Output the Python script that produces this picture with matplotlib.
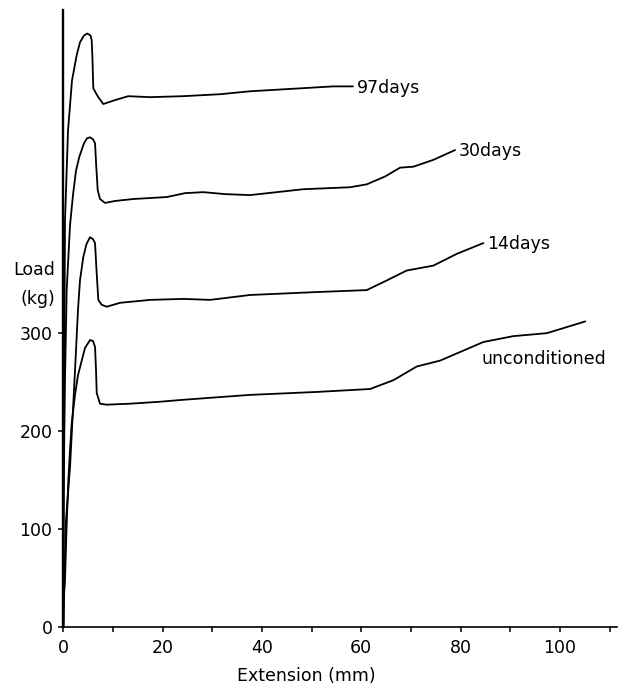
import matplotlib
matplotlib.use("Agg")
import matplotlib.pyplot as plt
from matplotlib.ticker import MultipleLocator

plt.rcParams['font.family'] = ['DejaVu Sans']

# Extension (mm) and Load (kg)
ext_97 = [0, 0.14, 0.34, 0.95, 1.75, 2.70, 3.36, 4.17, 4.83, 5.48, 5.72, 5.88, 6.04,
          6.59, 7.05, 8.06, 10.41, 13.09, 17.46, 24.11, 31.57, 37.60, 47.67, 54.32, 58.35]
load_97 = [0, 211, 415, 507, 558, 584, 597, 604, 606, 604, 599, 579, 550,
           545, 541, 534, 538, 542, 541, 542, 544, 547, 550, 552, 552]

ext_30 = [0, 0.04, 0.34, 0.68, 1.35, 1.95, 2.56, 3.22, 4.17, 4.77, 5.38, 5.98, 6.39,
          6.63, 6.93, 7.39, 8.40, 10.41, 14.10, 20.83, 24.51, 28.20, 32.56, 37.60,
          48.34, 57.74, 61.11, 64.79, 67.81, 70.49, 74.52, 78.89]
load_30 = [0, 130, 252, 344, 410, 441, 466, 480, 494, 499, 500, 498, 494,
           471, 446, 437, 433, 435, 437, 439, 443, 444, 442, 441,
           447, 449, 452, 460, 469, 470, 477, 487]

ext_14 = [0, 0.14, 0.54, 1.35, 2.36, 2.96, 3.36, 4.03, 4.67, 5.38, 5.98, 6.39, 6.69,
          7.05, 7.73, 8.74, 11.42, 17.46, 24.17, 29.55, 37.60, 51.04, 61.11, 64.79,
          69.16, 74.52, 79.23, 84.59]
load_14 = [0, 28, 109, 163, 262, 324, 354, 378, 391, 398, 396, 392, 364,
           334, 329, 327, 331, 334, 335, 334, 339, 342, 344, 353,
           364, 369, 381, 392]

ext_un = [0, 0.04, 0.34, 0.64, 1.01, 1.35, 1.69, 2.36, 2.96, 3.71, 4.38, 5.38, 5.98,
          6.39, 6.59, 6.73, 7.39, 8.74, 13.43, 19.48, 24.17, 37.60, 51.04, 61.77,
          66.47, 71.18, 75.88, 84.59, 90.64, 97.36, 105.11]
load_un = [0, 28, 48, 99, 150, 181, 208, 237, 257, 272, 285, 293, 292,
           286, 262, 239, 228, 227, 228, 230, 232, 237, 240, 243,
           252, 266, 272, 291, 297, 300, 312]

series_labels = ["97days", "30days", "14days", "unconditioned"]
x_ticks = [0, 20, 40, 60, 80, 100]
y_ticks = [0, 100, 200, 300]

fig = plt.figure(figsize=(6.2, 6.85), dpi=100)
ax = fig.add_axes([0.1021, 0.0847, 0.8931, 0.9007])

series = [(ext_97, load_97), (ext_30, load_30), (ext_14, load_14), (ext_un, load_un)]
for xs, ys in series:
    ax.plot(xs, ys, color='black', lw=1.3, solid_joinstyle='round',
            solid_capstyle='round', clip_on=False)

# labels at line ends
for (xs, ys), lab in zip(series[:3], series_labels[:3]):
    ax.annotate(lab, xy=(xs[-1], ys[-1]), xytext=(2.5, -1), textcoords='offset points',
                ha='left', va='center', fontsize=12.5)
# "unconditioned" sits below the curve, starting near its 85 mm point
ax.annotate(series_labels[3], xy=(ext_un[-4], load_un[-4]), xytext=(-1, -6),
            textcoords='offset points', ha='left', va='top', fontsize=12.5)

ax.set_xlim(0, 111.5)
ax.set_ylim(0, 630)
ax.set_xticks(x_ticks)
ax.set_yticks(y_ticks)
ax.xaxis.set_minor_locator(MultipleLocator(10))
ax.tick_params(axis='both', which='both', direction='out', width=1.1, labelsize=12.5)
ax.tick_params(axis='x', which='both', length=3.5, pad=5)
ax.tick_params(axis='y', which='both', length=3.8, pad=4)

for s in ['top', 'right']:
    ax.spines[s].set_visible(False)
ax.spines['left'].set_linewidth(1.7)
ax.spines['bottom'].set_linewidth(1.2)

ax.text(49, -0.079, "Extension (mm)", transform=ax.get_xaxis_transform(),
        ha='center', va='center', fontsize=12.5)
fig.text(55 / 620, 1 - 270 / 685, "Load", ha='right', va='center', fontsize=12.5)
fig.text(55 / 620, 1 - 299 / 685, "(kg)", ha='right', va='center', fontsize=12.5)

fig.savefig("out.png", dpi=100)
